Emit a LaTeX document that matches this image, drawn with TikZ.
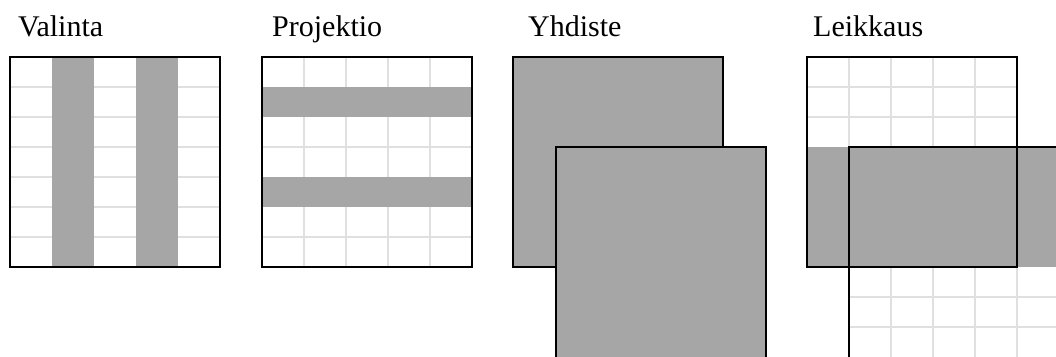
\documentclass[tikz,border=0pt]{standalone}
\usepackage{fontspec}
\setmainfont{Liberation Serif}
\definecolor{fillgray}{HTML}{A6A6A6}
\definecolor{gridgray}{HTML}{E0E0E0}
\tikzset{
  lbl/.style={anchor=base west, inner sep=0pt, font=\fontsize{30}{30}\selectfont},
  gridln/.style={draw=gridgray, line width=1.2pt},
  shade/.style={fill=fillgray},
  frame/.style={draw=black, line width=2.2pt},
}
\begin{document}
\begin{tikzpicture}[x=1pt,y=-1pt]
\useasboundingbox (0,0) rectangle (1056,356);
\clip (0,0) rectangle (1056,356);
% labels
\node[lbl] (l1) at (18,36) {Valinta};
\node[lbl] (l2) at (272,36) {Projektio};
\node[lbl] (l3) at (528,36) {Yhdiste};
\node[lbl] (l4) at (813,36) {Leikkaus};
% Valinta
\foreach \y in {87,117,147,177,207,237} \draw[gridln] (10,\y) -- (220,\y);
\fill[shade] (52,57) rectangle (94,267);
\fill[shade] (136,57) rectangle (178,267);
\draw[frame] (10,57) rectangle (220,267);
% Projektio
\foreach \x in {304,346,388,430} \draw[gridln] (\x,57) -- (\x,267);
\foreach \y in {147,237} \draw[gridln] (262,\y) -- (472,\y);
\fill[shade] (262,87) rectangle (472,117);
\fill[shade] (262,177) rectangle (472,207);
\draw[frame] (262,57) rectangle (472,267);
% Yhdiste
\draw[frame, shade] (513,57) rectangle (723,267);
\draw[frame, shade] (556,147) rectangle (766,359);
% Leikkaus
\foreach \x in {849,891,933,975} \draw[gridln] (\x,57) -- (\x,147);
\foreach \y in {87,117} \draw[gridln] (807,\y) -- (1017,\y);
\foreach \x in {891,933,975,1017} \draw[gridln] (\x,267) -- (\x,359);
\foreach \y in {297,327} \draw[gridln] (849,\y) -- (1060,\y);
\fill[shade] (807,147) rectangle (1060,267);
\draw[frame] (807,57) rectangle (1017,267);
\draw[frame] (849,147) rectangle (1060,359);
\end{tikzpicture}
\end{document}
